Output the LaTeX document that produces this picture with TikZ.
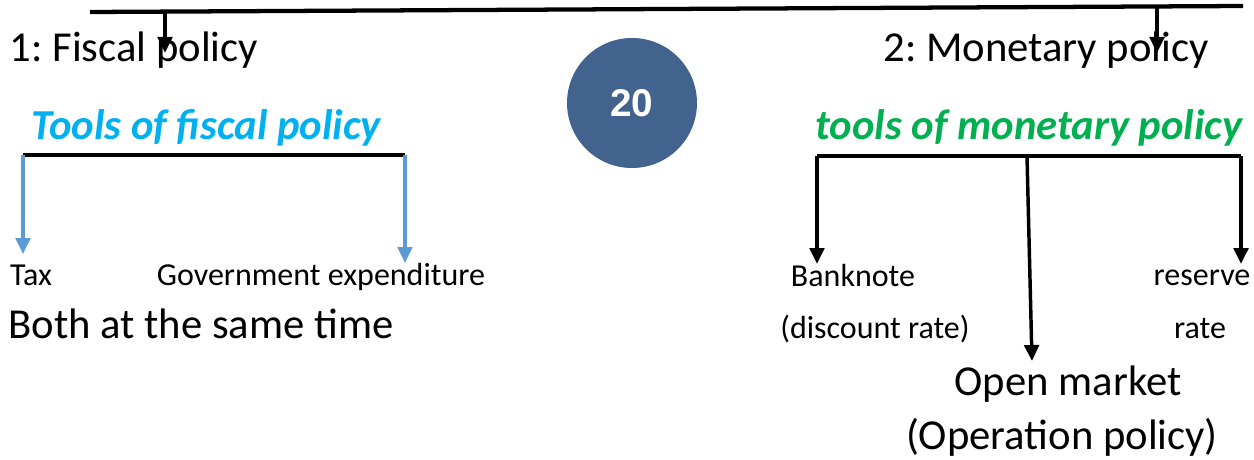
\documentclass[tikz,border=0pt]{standalone}
\usepackage{fontspec}
\setmainfont{Carlito}
\newfontfamily\numfont{Liberation Sans}
\usetikzlibrary{arrows.meta, positioning}
\definecolor{fiscalblue}{RGB}{0,176,240}
\definecolor{moneygreen}{RGB}{0,176,80}
\definecolor{arrowblue}{RGB}{91,155,213}
\definecolor{badgeblue}{RGB}{65,99,141}
\frenchspacing

\begin{document}
\begin{tikzpicture}[
        x=0.75pt, y=-0.75pt,
        title/.style={font=\fontsize{32}{38}\selectfont, inner sep=0pt, anchor=base},
        tools/.style={font=\fontsize{32}{38}\selectfont\bfseries\itshape, inner sep=0pt, anchor=base},
        item/.style={font=\fontsize{24}{29}\selectfont, inner sep=0pt, anchor=base},
        barline/.style={line width=2.6pt},
        blackarrow/.style={line width=2.6pt, -{Triangle[width=11pt,length=12pt]}},
        bluearrow/.style={arrowblue, line width=2.3pt, -{Triangle[width=11pt,length=12pt]}},
    ]
    \useasboundingbox (0,0) rectangle (1254,460);

    % Top line with its two arrows
    \coordinate (topL) at (90,12);
    \coordinate (topR) at (1243,6);
    \coordinate (fiscTop) at (165,11.6);
    \coordinate (fiscTip) at (165,53);
    \coordinate (monTop) at (1157,6.5);
    \coordinate (monTip) at (1157,53);
    \draw[line width=3.2pt] (topL) -- (topR);

    % Headings
    \node[title] (fiscal) at (134,62) {1: Fiscal policy};
    \node[title] (monetary) at (1046,62) {2: Monetary policy};

    % Page badge
    \node[circle, fill=badgeblue, minimum size=130*0.75pt, inner sep=0pt,
          text=white, font=\numfont\fontsize{29}{33}\selectfont\bfseries] (badge) at (632,103) {20};

    % Tool headings
    \node[tools, text=fiscalblue] (fiscTools) at (206,140) {Tools of fiscal policy};
    \node[tools, text=moneygreen] (monTools) at (1029,140) {tools of monetary policy};

    % Fiscal tools
    \node[item] (tax) at (31,285) {Tax};
    \node[item] (govexp) at (321,285) {Government expenditure};
    \node[title] (both) at (201,338) {Both at the same time};

    % Monetary tools
    \node[item] (banknote) at (853,286) {Banknote};
    \node[item] (discount) at (875,338) {(discount rate)};
    \node[item] (reserve) at (1202,285) {reserve};
    \node[item] (rrate) at (1200,338) {rate};
    \node[title] (openmkt) at (1068,395) {Open market};
    \node[title] (operation) at (1062,449) {(Operation policy)};

    % Fiscal bracket
    \coordinate (fiscL) at (23,155);
    \coordinate (fiscR) at (405,155);
    \coordinate (taxTip) at (23,254);
    \coordinate (govTip) at (405,263);

    % Monetary bracket
    \coordinate (monL) at (817,156);
    \coordinate (monM) at (1027,156);
    \coordinate (monR) at (1241,156);
    \coordinate (bankTip) at (817,264);
    \coordinate (openTip) at (1032,361);
    \coordinate (resTip) at (1241,264);

    % Arrows from the top line
    \draw[blackarrow] (fiscTop) -- (fiscTip);
    \draw[blackarrow] (monTop) -- (monTip);

    % Fiscal arrows
    \draw[barline] (fiscL) -- (fiscR);
    \draw[bluearrow] (fiscL) -- (taxTip);
    \draw[bluearrow] (fiscR) -- (govTip);

    % Monetary arrows
    \draw[barline] (monL) -- (monR);
    \draw[blackarrow] (monL) -- (bankTip);
    \draw[blackarrow] (monM) -- (openTip);
    \draw[blackarrow] (monR) -- (resTip);

\end{tikzpicture}
\end{document}
